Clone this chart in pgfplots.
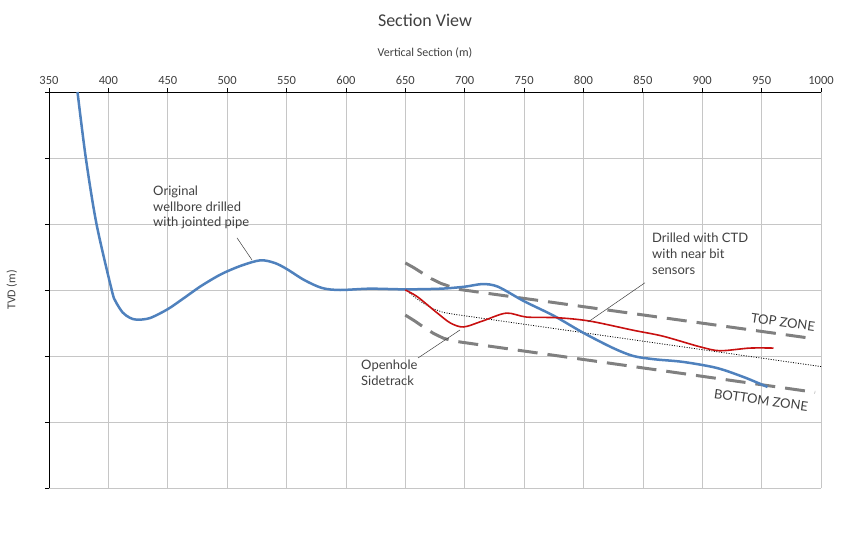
\documentclass[border=0pt]{standalone}
\usepackage{fontspec}
\setmainfont{Carlito}
\newfontfamily\annfont{Lato}
\usepackage{pgfplots}
\pgfplotsset{compat=1.18}
\definecolor{wellblue}{RGB}{79,129,189}
\definecolor{ctdred}{RGB}{200,16,16}
\definecolor{zonegray}{RGB}{128,128,128}
\definecolor{txtgray}{RGB}{64,64,64}
\begin{document}
\begin{tikzpicture}[x=1pt,y=1pt]
\useasboundingbox (0,0) rectangle (850,555);
\begin{axis}[
  at={(49pt,67pt)}, anchor=south west,
  scale only axis, width=772pt, height=396pt,
  xmin=350, xmax=1000, ymin=-600, ymax=0,
  xtick={350,400,...,1000},
  ytick={-600,-500,...,0},
  yticklabels={},
  axis x line*=top, axis y line*=left,
  axis line style={black, line width=0.8pt, -},
  tick align=outside, major tick length=4pt,
  tick style={black, line width=0.8pt},
  xticklabel pos=upper,
  grid=major, major grid style={gray!45, line width=0.6pt},
  ticklabel style={font=\fontsize{12.5}{14}\selectfont, text=txtgray},
  /pgf/number format/assume math mode=true,
  /pgf/number format/set thousands separator={},
  title={Section View},
  title style={at={(rel axis cs:0.5,1)}, anchor=center, yshift=66pt, xshift=-10pt, font=\fontsize{18}{21}\selectfont, text=txtgray},
  xlabel={Vertical Section (m)},
  xlabel style={at={(rel axis cs:0.5,1)}, anchor=center, yshift=39pt, xshift=-10pt, font=\fontsize{12}{14}\selectfont, text=txtgray},
  ylabel={TVD (m)},
  ylabel style={at={(axis description cs:-0.048,0.5)}, anchor=center, font=\fontsize{12}{14}\selectfont, text=txtgray},
  clip=false,
]
% Top zone
\addplot[zonegray, line width=3pt, dash pattern=on 20pt off 10pt, line cap=butt, line join=round] coordinates {
  (650,-259) (657,-266) (664,-274) (672,-283) (680,-290) (688,-295) (695,-299) (995,-374)
};
% Bottom zone
\addplot[zonegray, line width=3pt, dash pattern=on 20pt off 10pt, line cap=butt, line join=round] coordinates {
  (650,-338) (658,-347) (666,-357) (674,-366) (682,-373) (690,-377) (697,-379) (995,-455)
};
% Dotted trend
\addplot[black, line width=0.8pt, dash pattern=on 1pt off 1.5pt, line join=round] coordinates {
  (652,-302) (658,-311) (665,-320) (673,-328) (682,-334) (692,-337) (1000,-416)
};
% Original wellbore
\addplot[wellblue, line width=2.5pt, smooth, tension=0.5] coordinates {
  (374,0) (381,-100) (390,-200) (402.8,-300) (406,-317) (412,-334) (418,-342) (424,-345) (435,-342.5)
  (450,-329) (463,-313) (478,-294) (495,-276) (512,-263) (528,-255) (540,-259) (550,-268)
  (565,-285) (580,-297) (595,-300) (620,-298) (650,-299) (680,-298) (700,-295)
  (715,-291) (728,-295) (750,-317) (775,-339) (800,-365) (825,-388) (842,-400)
  (860,-405) (884,-409) (912,-418) (935,-432) (955,-447)
};
% CTD sidetrack
\addplot[ctdred, line width=1.6pt, smooth, tension=0.5] coordinates {
  (650,-300) (660,-310) (677,-335) (688,-350) (699,-356) (715,-347) (735,-335)
  (752,-341) (778,-342) (805,-347) (842,-361) (867,-370) (898,-386) (915,-392)
  (940,-388) (960,-388)
};
% Annotations
\node[anchor=north west, align=left, font=\annfont\fontsize{13}{15.7}\selectfont, text=txtgray, inner sep=0pt]
  at (axis cs:437.6,-142) {Original\\wellbore drilled\\with jointed pipe};
\draw[txtgray, line width=0.5pt] (axis cs:508.3,-221) -- (axis cs:520.9,-254.5);
\node[anchor=north west, align=left, font=\annfont\fontsize{13}{15.7}\selectfont, text=txtgray, inner sep=0pt]
  at (axis cs:857.7,-213.6) {Drilled with CTD\\with near bit\\sensors};
\draw[txtgray, line width=0.5pt] (axis cs:851.8,-289) -- (axis cs:803.8,-348.5);
\node[anchor=north west, align=left, font=\annfont\fontsize{13}{15.7}\selectfont, text=txtgray, inner sep=0pt]
  at (axis cs:612.7,-406) {Openhole\\Sidetrack};
\draw[txtgray, line width=0.5pt] (axis cs:660.7,-403) -- (axis cs:696,-360.6);
\node[rotate=-8, font=\annfont\fontsize{13}{15}\selectfont, text=txtgray]
  at (axis cs:968,-348.5) {TOP ZONE};
\node[rotate=-8, font=\annfont\fontsize{13}{15}\selectfont, text=txtgray]
  at (axis cs:949.5,-466.7) {BOTTOM ZONE};
\end{axis}
\end{tikzpicture}
\end{document}
